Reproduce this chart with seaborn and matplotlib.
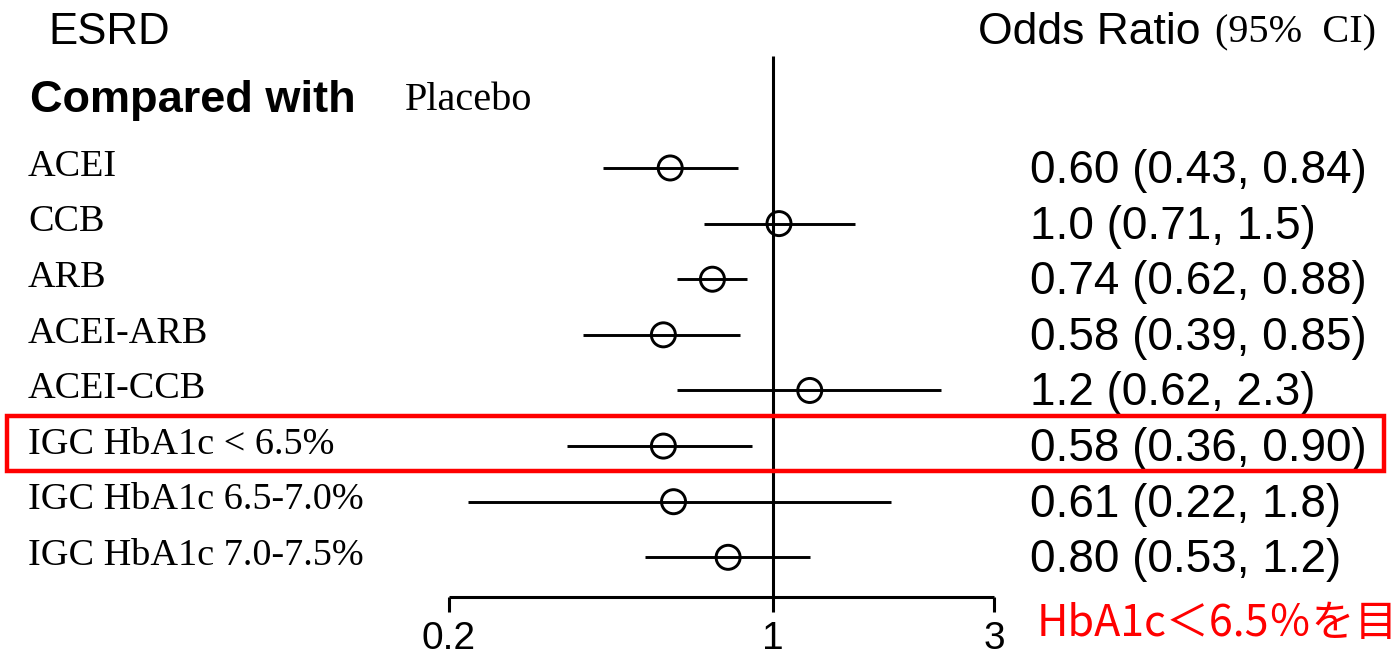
import numpy as np
import pandas as pd
import matplotlib
matplotlib.use('Agg')
import matplotlib.pyplot as plt
import seaborn as sns
from matplotlib.patches import Rectangle

# forest plot data (ESRD, compared with placebo)
labels = ['ACEI', 'CCB', 'ARB', 'ACEI-ARB', 'ACEI-CCB',
          'IGC HbA1c < 6.5%', 'IGC HbA1c 6.5-7.0%', 'IGC HbA1c 7.0-7.5%']
odds = [0.60, 1.03, 0.74, 0.58, 1.2, 0.58, 0.61, 0.80]
lower = [0.43, 0.71, 0.62, 0.39, 0.62, 0.36, 0.22, 0.53]
upper = [0.84, 1.5, 0.88, 0.85, 2.3, 0.90, 1.8, 1.2]
ci_text = ['0.60 (0.43, 0.84)', '1.0 (0.71, 1.5)', '0.74 (0.62, 0.88)',
           '0.58 (0.39, 0.85)', '1.2 (0.62, 2.3)', '0.58 (0.36, 0.90)',
           '0.61 (0.22, 1.8)', '0.80 (0.53, 1.2)']
tick_vals = [0.2, 1, 3]
tick_labels = ['0.2', '1', '3']

df = pd.DataFrame({'label': labels, 'odds': odds, 'lower': lower, 'upper': upper,
                   'row': np.arange(len(labels))})

sns.set_style('white')
plt.rcParams['text.color'] = 'black'
SANS = ['Liberation Sans', 'DejaVu Sans']
SERIF = ['Liberation Serif', 'DejaVu Serif']

fig = plt.figure(figsize=(13.99, 6.58), dpi=100)
ax = fig.add_axes([0, 0, 1, 1])
ax.set_xscale('log')
ax.set_xlim(0.0215, 22.4)
ax.set_ylim(8.81, -3.02)
ax.axis('off')

# confidence intervals and point estimates
ax.hlines(df['row'], df['lower'], df['upper'], color='black', lw=2.1, zorder=2)
sns.scatterplot(data=df, x='odds', y='row', ax=ax, marker='o', s=300,
                fc='none', ec='black', linewidth=2.1, zorder=3, legend=False)
ax.set_xlabel('')
ax.set_ylabel('')

# reference line and bracket axis
ax.vlines(1, -2.01, 7.72, color='black', lw=2.2)
ax.hlines(7.72, tick_vals[0], tick_vals[-1], color='black', lw=2.2)
for v, t in zip(tick_vals, tick_labels):
    ax.vlines(v, 7.72, 7.99, color='black', lw=2.2)
    ax.text(v, 8.47, t, ha='center', va='center', fontsize=28, family=SANS)

tr = ax.get_yaxis_transform()
ax.text(48 / 1399, -2.43, 'ESRD', transform=tr, fontsize=31.5, family=SANS, va='center')
ax.text(978 / 1399, -2.43, 'Odds Ratio', transform=tr, fontsize=32, family=SANS, va='center')
ax.text(1215 / 1399, -2.43, '(95%  CI)', transform=tr, fontsize=29, family=SERIF, va='center')
ax.text(30 / 1399, -1.22, 'Compared with', transform=tr, fontsize=32.5, family=SANS,
        fontweight='bold', va='center')
ax.text(405 / 1399, -1.22, 'Placebo', transform=tr, fontsize=29, family=SERIF, va='center')

for r, lab, ci in zip(df['row'], labels, ci_text):
    ax.text(28 / 1399, r + 0.14, lab, transform=tr, fontsize=27.5, family=SERIF, va='baseline')
    ax.text(1030 / 1399, r + 0.27, ci, transform=tr, fontsize=33, family=SANS, va='baseline')

# highlight box around HbA1c < 6.5% row
fig.patches.append(Rectangle((7 / 1399, 1 - 471 / 658), 1377 / 1399, 55 / 658,
                             transform=fig.transFigure, fill=False, ec='#ff0000', lw=3.2))
fig.text(1037 / 1399, 1 - 602 / 658, 'HbA1c＜6.5％を目', color='#ff0000', fontsize=31,
         family=['Noto Sans CJK JP', 'DejaVu Sans'], va='top')

fig.savefig('out.png', dpi=100)
